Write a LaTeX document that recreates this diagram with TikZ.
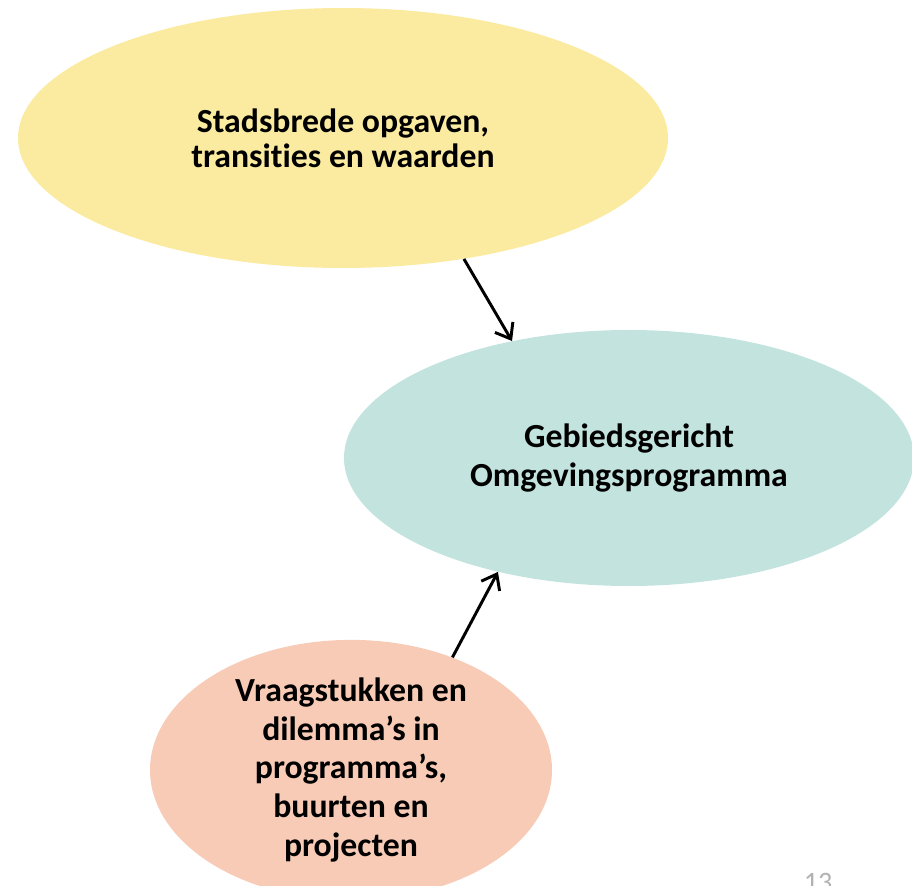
\documentclass[tikz,border=0pt]{standalone}
\usepackage{fontspec}
\setmainfont{Carlito}[Ligatures=NoCommon]
\usetikzlibrary{shapes.geometric, arrows.meta, positioning}

\definecolor{opgavegeel}{HTML}{FBEBA0}
\definecolor{programmablauw}{HTML}{C3E3DF}
\definecolor{vraagroze}{HTML}{F8CBB6}

\begin{document}
\begin{tikzpicture}

    \useasboundingbox (0 mm, 0 mm) rectangle (228 mm, 221.25 mm); % same proportions as the slide crop

    % ellipses without outline, text set bold and centred
    \begin{scope}[every node/.style={ellipse, inner sep=0pt, align=center,
                                      font=\fontsize{24}{27.5}\selectfont\bfseries}]

    \node [fill=opgavegeel, minimum width=162.5mm, minimum height=65mm,
           font=\fontsize{24}{25}\selectfont\bfseries]                      (opgaven)   at (85.75mm, 186.75mm) {Stadsbrede opgaven,\\transities en waarden};
    \node [fill=programmablauw, minimum width=142.5mm, minimum height=64mm] (programma) at (157.25mm, 106.75mm) {Gebiedsgericht\\Omgevingsprogramma};
    \node [fill=vraagroze, minimum width=100.5mm, minimum height=58mm]      (vragen)    at (87.75mm, 28.75mm)  {Vraagstukken en\\dilemma’s in\\programma’s,\\buurten en\\projecten};

    \end{scope}

    % page number, cut off by the slide edge
    \node [anchor=north, text=black!30, font=\fontsize{20}{22}\selectfont] (paginanr) at (204.5mm, 4.2mm) {13};

    \begin{scope}[every path/.style={-{Straight Barb[length=3.4mm, width=5.2mm]}, line width=2.1pt, draw=black}]

        \draw (opgaven.-45) -- (programma.135);
        \draw (vragen.48)   -- (programma.-139);

    \end{scope}

\end{tikzpicture}
\end{document}
